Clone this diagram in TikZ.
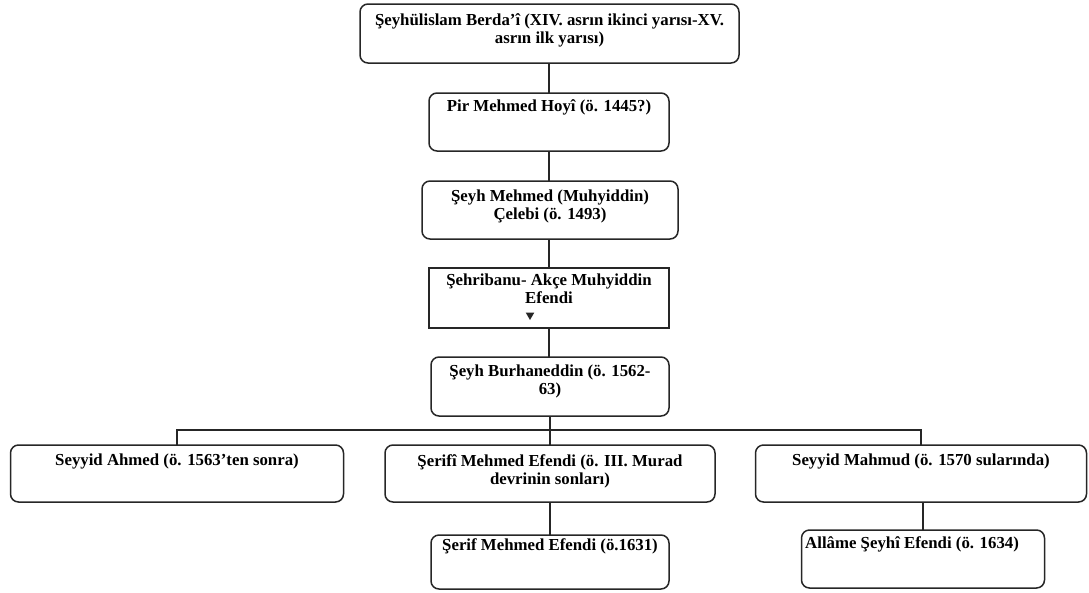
\documentclass[tikz,border=0pt]{standalone}
\usepackage{fontspec}
\setmainfont{Liberation Serif}
\usetikzlibrary{shapes.geometric}

\begin{document}
\begin{tikzpicture}[x=1pt,y=-1pt]
\tikzset{
  treebox/.style={draw=black!85,line width=1.5pt,rounded corners=8pt,inner sep=0pt,outer sep=0pt},
  flatbox/.style={treebox,rounded corners=0pt},
  treetext/.style={anchor=north,inner sep=0pt,align=center,font=\fontsize{16.8}{18}\selectfont\bfseries},
  treeline/.style={draw=black!85,line width=1.5pt},
  marker/.style={regular polygon,regular polygon sides=3,shape border rotate=180,fill=black!85,inner sep=0pt,minimum size=10pt}
}
\useasboundingbox (0,0) rectangle (1089,592);
% boxes
\node[treebox,minimum width=379,minimum height=59] (berdai) at (549.5,33.5) {};
\node[treebox,minimum width=240,minimum height=58] (pirmehmed) at (549,122) {};
\node[treebox,minimum width=256,minimum height=58] (muhyiddin) at (550,210) {};
\node[flatbox,minimum width=240,minimum height=60] (sehribanu) at (549,298) {};
\node[treebox,minimum width=238,minimum height=59] (burhaneddin) at (550,386.5) {};
\node[treebox,minimum width=333,minimum height=57] (ahmed) at (177,473.5) {};
\node[treebox,minimum width=330,minimum height=57] (serifi) at (550,473.5) {};
\node[treebox,minimum width=331,minimum height=57] (mahmud) at (921,473.5) {};
\node[treebox,minimum width=238,minimum height=54] (serif) at (550,562) {};
\node[treebox,minimum width=243,minimum height=58] (allame) at (923,559) {};
% texts
\node[treetext] (t_berdai) at (549.5,13) {Şeyhülislam Berda'î (XIV. asrın ikinci yarısı-XV.\\asrın ilk yarısı)};
\node[treetext] (t_pirmehmed) at (549,99) {Pir Mehmed Hoyî (ö. 1445?)};
\node[treetext] (t_muhyiddin) at (550,190) {Şeyh Mehmed (Muhyiddin)\\Çelebi (ö. 1493)};
\node[treetext] (t_sehribanu) at (549,274) {Şehribanu- Akçe Muhyiddin\\Efendi};
\node[marker] (mark) at (530,315) {};
\node[treetext] (t_burhaneddin) at (550,365) {Şeyh Burhaneddin (ö. 1562-\\63)};
\node[treetext] (t_ahmed) at (177,454) {Seyyid Ahmed (ö. 1563'ten sonra)};
\node[treetext] (t_serifi) at (550,454) {Şerifî Mehmed Efendi (ö. III. Murad\\devrinin sonları)};
\node[treetext] (t_mahmud) at (921,454) {Seyyid Mahmud (ö. 1570 sularında)};
\node[treetext] (t_serif) at (550,538) {Şerif Mehmed Efendi (ö.1631)};
\node[treetext,anchor=north west] (t_allame) at (805,536) {Allâme Şeyhî Efendi (ö. 1634)};
% links
\coordinate (split) at (550,430);
\draw[treeline] (berdai.south -| pirmehmed) -- (pirmehmed.north);
\draw[treeline] (pirmehmed.south) -- (pirmehmed.south |- muhyiddin.north);
\draw[treeline] (muhyiddin.south -| sehribanu) -- (sehribanu.north);
\draw[treeline] (sehribanu.south) -- (sehribanu.south |- burhaneddin.north);
\draw[treeline] (burhaneddin.south) -- (split);
\draw[treeline] (ahmed.north) -- (ahmed.north |- split) -- (mahmud.north |- split) -- (mahmud.north);
\draw[treeline] (split) -- (serifi.north);
\draw[treeline] (serifi.south) -- (serif.north);
\draw[treeline] (mahmud.south -| allame) -- (allame.north);
\end{tikzpicture}
\end{document}
